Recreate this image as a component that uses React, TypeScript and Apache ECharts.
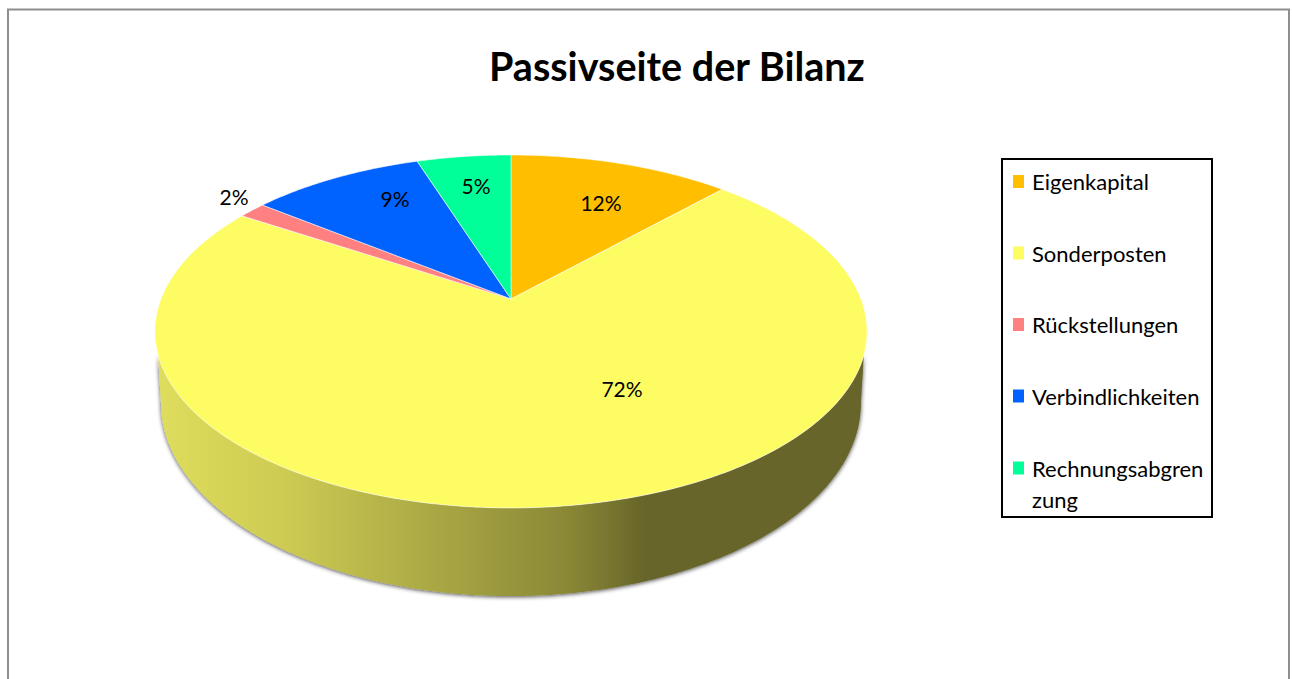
import React, { useEffect, useRef } from "react";
import * as echarts from "echarts";

const TITLE = "Passivseite der Bilanz";
const categories = ["Eigenkapital", "Sonderposten", "Rückstellungen", "Verbindlichkeiten", "Rechnungsabgrenzung"];
const values = [12, 72, 1.5, 9.4, 5.1];
const colors = ["#FFBF00", "#FDFC62", "#FF8080", "#0062FF", "#00FF99"];
const FONT = "Lato";

// Perspective of the pie disc
const CX = 511;
const TOP = { y0: 299, a: 350, b: 170.5, k: 0.184 };
const BOTTOM = { y0: 367.5, a: 344, b: 186.5, k: 0.184 };
const labelAnchors = [[601, 202], [622, 388], [234, 196], [395, 198], [476, 185]];
const WALL_SLICE = 1;

const total = values.reduce((s, v) => s + v, 0);
const starts = values.map((_, i) => values.slice(0, i).reduce((s, v) => s + v, 0) / total);

function project(theta: number, p: typeof TOP) {
  const u = Math.sin(theta);
  const v = -Math.cos(theta);
  const d = 1 - p.k * v;
  return [CX + (p.a * u) / d, p.y0 + (p.b * v) / d];
}

function arcPoints(t0: number, t1: number, p: typeof TOP) {
  const n = Math.max(2, Math.ceil(Math.abs(t1 - t0) / 0.01));
  const pts: number[][] = [];
  for (let i = 0; i <= n; i++) pts.push(project(t0 + ((t1 - t0) * i) / n, p));
  return pts;
}

function wall() {
  const topV = 0.31;
  const botV = 0.184;
  const t0 = Math.acos(-topV);
  const b0 = Math.acos(-botV);
  const top = arcPoints(t0, Math.PI * 2 - t0, TOP);
  const bot = arcPoints(Math.PI * 2 - b0, b0, BOTTOM);
  return {
    type: "polygon",
    shape: { points: [...top, ...bot] },
    style: {
      fill: new echarts.graphic.LinearGradient(0, 0, 1, 0, [
        { offset: 0, color: "#DEDD5C" },
        { offset: 0.18, color: "#CDCB53" },
        { offset: 0.42, color: "#A5A342" },
        { offset: 0.58, color: "#8A8836" },
        { offset: 0.69, color: "#67652A" },
        { offset: 1, color: "#67652A" },
      ]),
      shadowBlur: 4,
      shadowColor: "rgba(0,0,0,0.7)",
      shadowOffsetY: 1,
    },
  };
}

function makeRenderItem(i: number) {
  return () => {
    const t0 = starts[i] * Math.PI * 2;
    const t1 = (starts[i] + values[i] / total) * Math.PI * 2;
    const children: any[] = [];
    if (i === WALL_SLICE) children.push(wall());
    children.push({
      type: "polygon",
      shape: { points: [[CX, TOP.y0], ...arcPoints(t0, t1, TOP)] },
      style: { fill: colors[i], stroke: "rgba(255,255,255,0.55)", lineWidth: 1 },
    });
    children.push({
      type: "text",
      z2: 10,
      style: {
        text: Math.round((values[i] / total) * 100) + "%",
        x: labelAnchors[i][0],
        y: labelAnchors[i][1],
        align: "center",
        verticalAlign: "middle",
        font: `21px ${FONT}`,
        fill: "#000",
      },
    });
    return { type: "group", children };
  };
}

const legendBase = {
  orient: "vertical",
  left: 1013,
  padding: 0,
  itemWidth: 11,
  itemHeight: 13,
  itemGap: 37.5,
  icon: "rect",
  selectedMode: false,
  textStyle: { fontFamily: FONT, fontSize: 22, lineHeight: 31, color: "#000", padding: [0, 0, 3, 3] },
};

export default function App() {
  const ref = useRef<HTMLDivElement>(null);
  useEffect(() => {
    const chart = echarts.init(ref.current!, null, { renderer: "svg" });
    chart.setOption({
      animation: false,
      backgroundColor: "#fff",
      title: {
        text: TITLE,
        left: 489,
        top: 45,
        padding: 0,
        textStyle: { fontFamily: FONT, fontWeight: "bold", fontSize: 39.5, color: "#000" },
      },
      legend: [
        { ...legendBase, top: 164.5, data: categories.slice(0, 4) },
        {
          ...legendBase,
          top: 420,
          data: categories.slice(4),
          formatter: () => "\nRechnungsabgren\nzung",
        },
      ],
      graphic: [
        {
          type: "rect",
          silent: true,
          z: -1,
          shape: { x: 8, y: 9.5, width: 1281, height: 720 },
          style: { fill: "#fff", stroke: "#8E8E8E", lineWidth: 2 },
        },
        {
          type: "rect",
          silent: true,
          z: -1,
          shape: { x: 1002, y: 159, width: 210, height: 358 },
          style: { fill: "#fff", stroke: "#000", lineWidth: 2 },
        },
      ],
      series: categories.map((name, i) => ({
        type: "custom",
        name,
        coordinateSystem: "none",
        clip: false,
        silent: true,
        itemStyle: { color: colors[i] },
        data: [values[i]],
        renderItem: makeRenderItem(i),
      })),
    });
    return () => chart.dispose();
  }, []);
  return <div ref={ref} style={{ position: "absolute", left: 0, top: 0, width: 1292, height: 679 }} />;
}
